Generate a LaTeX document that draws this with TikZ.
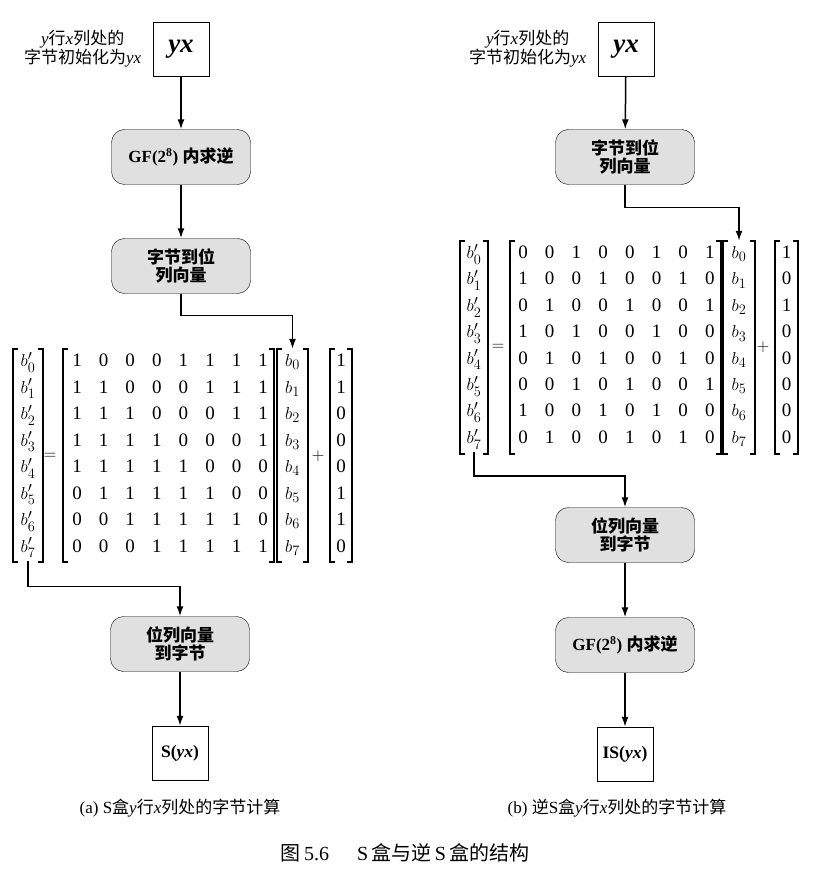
\documentclass[tikz,border=0pt]{standalone}
\usepackage{amsmath}
\usepackage{fontspec}
\setmainfont{Liberation Serif}
\newfontfamily\cjk{Noto Sans CJK SC}
\newcommand{\zh}[1]{{\cjk #1}}
\usepackage{tikz}
\usetikzlibrary{positioning,calc,arrows.meta}
\definecolor{boxgray}{RGB}{224,224,224}

% draws [ ] between x1 and x2, from y1 down to y2
\newcommand{\brackets}[4]{%
  \draw[brk] (#1+5,#3) -| (#1,#4) -- (#1+5,#4);
  \draw[brk] (#2-5,#3) -| (#2,#4) -- (#2-5,#4);}

\tikzset{
  procbox/.style={draw, rounded corners=13pt, fill=boxgray, minimum width=139pt, minimum height=55pt, align=center, font=\fontsize{17}{18.5}\selectfont},
  termbox/.style={draw, fill=white, minimum width=56pt, minimum height=54pt, font=\bfseries\fontsize{17.5}{18}\selectfont},
  note/.style={align=center, font=\fontsize{17}{19}\selectfont},
  cell/.style={inner sep=0pt, minimum width=24pt, minimum height=26pt, text height=13pt, text depth=4pt, font=\fontsize{19}{19}\selectfont},
  brk/.style={line width=1.2pt},
  flow/.style={->, line width=1.5pt},
}

\begin{document}
\begin{tikzpicture}[x=1pt, y=-1pt, >={Latex[length=10pt,width=7pt]}]
    \useasboundingbox (0,0) rectangle (816,874);

    % (a) S-box
    \node [termbox] (lyx) at (181,49) {\fontsize{27}{27}\selectfont\itshape yx};
    \node [note, left=8pt of lyx] (lnote) {{\itshape y}\zh{行}{\itshape x}\zh{列处的}\\\zh{字节初始化为}{\itshape yx}};
    \node [procbox] (lgf) at (181,157) {\textbf{GF(2\textsuperscript{8})} \zh{\bfseries 内求逆}};
    \node [procbox] (ltobit) at (181,266) {\zh{\bfseries 字节到位}\\\zh{\bfseries 列向量}};

    % matrix equation
    \foreach \i [count=\k from 0] in {0,...,7} {
      \node [cell] (lbp-\i) at (28,{362+26.5*\k}) {$b^{\prime}_{\i}$};
      \node [cell] (lb-\i) at (292.5,{362+26.5*\k}) {$b_{\i}$};
    }
    \foreach \row [count=\i from 0] in {{1,0,0,0,1,1,1,1},{1,1,0,0,0,1,1,1},{1,1,1,0,0,0,1,1},{1,1,1,1,0,0,0,1},
                                        {1,1,1,1,1,0,0,0},{0,1,1,1,1,1,0,0},{0,0,1,1,1,1,1,0},{0,0,0,1,1,1,1,1}}
      \foreach \v [count=\j from 0] in \row
        \node [cell] (lm-\i-\j) at ({77+26.6*\j},{362+26.5*\i}) {\v};
    \foreach \v [count=\i from 0] in {1,1,0,0,0,1,1,0}
      \node [cell] (lc-\i) at (341,{362+26.5*\i}) {\v};
    \node (leq) at (50,456) {\fontsize{19}{19}\selectfont$=$};
    \node (lplus) at (318,456) {\fontsize{19}{19}\selectfont$+$};
    \brackets{13}{43}{349}{562}
    \brackets{63}{274}{349}{562}
    \brackets{277}{308}{349}{562}
    \brackets{330}{352}{349}{562}

    \node [procbox] (ltobyte) at (180,644) {\zh{\bfseries 位列向量}\\\zh{\bfseries 到字节}};
    \node [termbox] (ls) at (180,753) {S(\textit{yx})};
    \node [font=\fontsize{17}{17}\selectfont] (lcap) at (180,808) {(a) S\zh{盒}{\itshape y}\zh{行}{\itshape x}\zh{列处的字节计算}};

    \draw [flow] (lyx) -- (lgf);
    \draw [flow] (lgf) -- (ltobit);
    \draw [flow] (ltobit.south) -- ++(0,22) -| (lb-0.north);
    \draw [flow] (lbp-7.south) -- ++(0,26) -| (ltobyte.north);
    \draw [flow] (ltobyte) -- (ls);

    % (b) inverse S-box
    \node [termbox] (ryx) at (626,49) {\fontsize{27}{27}\selectfont\itshape yx};
    \node [note, left=8pt of ryx] (rnote) {{\itshape y}\zh{行}{\itshape x}\zh{列处的}\\\zh{字节初始化为}{\itshape yx}};
    \node [procbox] (rtobit) at (625,157) {\zh{\bfseries 字节到位}\\\zh{\bfseries 列向量}};

    % matrix equation
    \foreach \i [count=\k from 0] in {0,...,7} {
      \node [cell] (rbp-\i) at (474,{254+26.4*\k}) {$b^{\prime}_{\i}$};
      \node [cell] (rb-\i) at (739,{254+26.4*\k}) {$b_{\i}$};
    }
    \foreach \row [count=\i from 0] in {{0,0,1,0,0,1,0,1},{1,0,0,1,0,0,1,0},{0,1,0,0,1,0,0,1},{1,0,1,0,0,1,0,0},
                                        {0,1,0,1,0,0,1,0},{0,0,1,0,1,0,0,1},{1,0,0,1,0,1,0,0},{0,1,0,0,1,0,1,0}}
      \foreach \v [count=\j from 0] in \row
        \node [cell] (rm-\i-\j) at ({523+26.7*\j},{254+26.4*\i}) {\v};
    \foreach \v [count=\i from 0] in {1,0,1,0,0,0,0,0}
      \node [cell] (rc-\i) at (786.5,{254+26.4*\i}) {\v};
    \node (req) at (498,347) {\fontsize{19}{19}\selectfont$=$};
    \node (rplus) at (763,347) {\fontsize{19}{19}\selectfont$+$};
    \brackets{460}{488}{241}{454}
    \brackets{510}{721}{241}{454}
    \brackets{723}{755}{241}{454}
    \brackets{775}{798}{241}{454}

    \node [procbox] (rtobyte) at (625,535) {\zh{\bfseries 位列向量}\\\zh{\bfseries 到字节}};
    \node [procbox] (rgf) at (625,645) {\textbf{GF(2\textsuperscript{8})} \zh{\bfseries 内求逆}};
    \node [termbox] (ris) at (625,754) {IS(\textit{yx})};
    \node [font=\fontsize{17}{17}\selectfont] (rcap) at (617,808) {(b) \zh{逆}S\zh{盒}{\itshape y}\zh{行}{\itshape x}\zh{列处的字节计算}};

    \draw [flow] (ryx) -- (rtobit);
    \draw [flow] (rtobit.south) -- ++(0,23) -| (rb-0.north);
    \draw [flow] (rbp-7.south) -- ++(0,24) -| (rtobyte.north);
    \draw [flow] (rtobyte) -- (rgf);
    \draw [flow] (rgf) -- (ris);

    % figure caption
    \node [font=\fontsize{20}{20}\selectfont] (fig) at (405,853) {\zh{图}\,5.6\hspace{1.4em}S\,\zh{盒与逆}\,S\,\zh{盒的结构}};
\end{tikzpicture}
\end{document}
